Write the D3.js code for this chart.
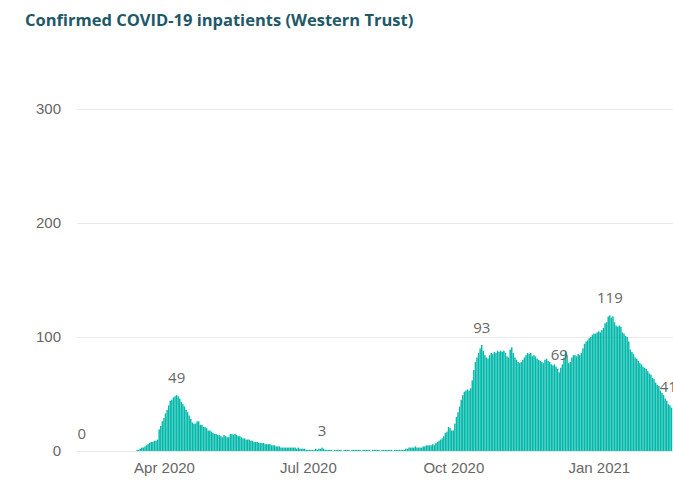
<!DOCTYPE html>
<html>
<head>
<meta charset="utf-8">
<script src="https://cdn.jsdelivr.net/npm/d3@7"></script>
<style>
  body { margin: 0; background: #fff; }
  svg { display: block; font-family: "Open Sans", "Noto Sans", sans-serif; }
</style>
</head>
<body>
<div id="chart"></div>
<script>
// daily confirmed inpatients, one array per month, starting on firstDay
const firstDay = "2020-02-09";
const feb2020 = [0,0,0,0,0, 0,0,0,0,0, 0,0,0,0,0, 0,0,0,0,0, 0];
const mar2020 = [0,0,0,0,0, 0,0,0,0,0, 0,0,0,0, 1,1,2,3,3, 4,5,6,7,8, 8,9,9,10,19, 22,26];
const apr2020 = [29,33,36,40,44, 45,47,48,49,48, 46,43,41,39,36, 34,31,28,25,24, 24,26,26,23,23, 21,21,20,18,18];
const may2020 = [17,16,15,15,14, 14,13,12,14,13, 12,12,15,15,14, 15,14,13,13,12, 11,11,10,10,10, 9,9,8,8,8, 7];
const jun2020 = [7,7,7,6,6, 6,6,5,5,5, 4,4,4,3,3, 3,3,3,3,3, 3,3,3,2,3, 2,2,2,2,1];
const jul2020 = [1,1,1,1,1, 2,1,2,2,3, 2,1,1,1,1, 1,0,1,1,1, 1,1,0,1,1, 1,1,0,1,1, 1];
const aug2020 = [1,1,1,0,1, 1,1,1,1,0, 1,1,1,1,1, 0,1,1,1,1, 1,1,1,0,1, 1,1,1,1,1, 1];
const sep2020 = [2,2,3,3,3, 3,4,3,3,3, 3,4,4,5,5, 5,5,6,5,7, 8,9,10,11,13, 16,17,21,20,18];
const oct2020 = [18,24,30,34,39, 45,49,52,53,54, 53,55,62,71,78, 82,86,90,93,88, 84,82,81,84,86, 85,87,86,88,87, 88];
const nov2020 = [87,88,86,83,82, 89,91,86,82,80, 78,77,78,80,82, 84,86,85,86,83, 84,83,81,80,79, 78,77,80,81,79];
const dec2020 = [78,76,75,76,74, 72,69,73,76,82, 88,84,77,78,82, 84,84,83,85,84, 86,90,94,96,97, 99,100,102,103,103, 104];
const jan2021 = [105,104,106,108,112, 113,118,119,117,118, 113,110,109,110,109, 104,103,101,100,96, 89,87,85,82,81, 79,77,76,74,73, 72];
const feb2021 = [70,68,67,64,63, 60,58,57,53,51, 49,46,44,41,40, 38];

const yTicks = [0, 100, 200, 300];
const xTickDates = ["2020-04-01", "2020-07-01", "2020-10-01", "2021-01-01"];
const xTickLabels = ["Apr 2020", "Jul 2020", "Oct 2020", "Jan 2021"];
const labelDates = ["2020-02-09", "2020-04-09", "2020-07-10", "2020-10-19", "2020-12-07", "2021-01-08", "2021-02-14"];

const width = 673, height = 483;
const parse = d3.utcParse("%Y-%m-%d");
const values = [].concat(feb2020, mar2020, apr2020, may2020, jun2020, jul2020,
                         aug2020, sep2020, oct2020, nov2020, dec2020, jan2021, feb2021);
const start = parse(firstDay);
const data = values.map((v, i) => ({ date: d3.utcDay.offset(start, i), value: v }));

const svg = d3.select("#chart")
              .append("svg")
              .attr("width", width)
              .attr("height", height);

svg.append("text")
   .attr("x", 25)
   .attr("y", 26)
   .attr("fill", "#215868")
   .attr("font-size", 16.5)
   .attr("font-weight", 700)
   .text("Confirmed COVID-19 inpatients (Western Trust)");

const x = d3.scaleUtc()
            .domain([parse("2020-04-01"), parse("2021-01-01")])
            .range([164, 598.8]);
const y = d3.scaleLinear()
            .domain([0, 300])
            .range([451, 109]);
const step = x(parse("2020-04-02")) - x(parse("2020-04-01"));

// gridlines + y labels
const yAxis = svg.append("g")
                 .attr("transform", "translate(77,0)")
                 .call(d3.axisLeft(y).tickValues(yTicks).tickSize(-(width - 77)).tickPadding(16));
yAxis.select(".domain").remove();
yAxis.selectAll("line").attr("stroke", "#e9e9e9");
yAxis.selectAll("text").attr("fill", "#666").attr("font-size", 15).attr("font-family", null);

// bars
svg.append("g")
   .selectAll("rect")
   .data(data)
   .enter()
   .append("rect")
   .attr("x", d => x(d.date) - step / 2)
   .attr("width", step - 0.15)
   .attr("y", d => y(d.value))
   .attr("height", d => y(0) - y(d.value))
   .attr("fill", "#01b8aa");

// x axis labels
const xAxis = svg.append("g")
                 .attr("transform", `translate(0,${y(0)})`)
                 .call(d3.axisBottom(x)
                         .tickValues(xTickDates.map(parse))
                         .tickFormat((d, i) => xTickLabels[i])
                         .tickSize(0)
                         .tickPadding(11));
xAxis.select(".domain").remove();
xAxis.selectAll("text").attr("fill", "#666").attr("font-size", 15).attr("font-family", null);

// data labels
const labelled = data.filter(d => labelDates.includes(d3.utcFormat("%Y-%m-%d")(d.date)));
svg.append("g")
   .selectAll("text")
   .data(labelled)
   .enter()
   .append("text")
   .attr("x", d => x(d.date))
   .attr("y", d => y(d.value) - 12)
   .attr("text-anchor", "middle")
   .attr("fill", "#666")
   .attr("font-size", 15)
   .text(d => d.value);
</script>
</body>
</html>
